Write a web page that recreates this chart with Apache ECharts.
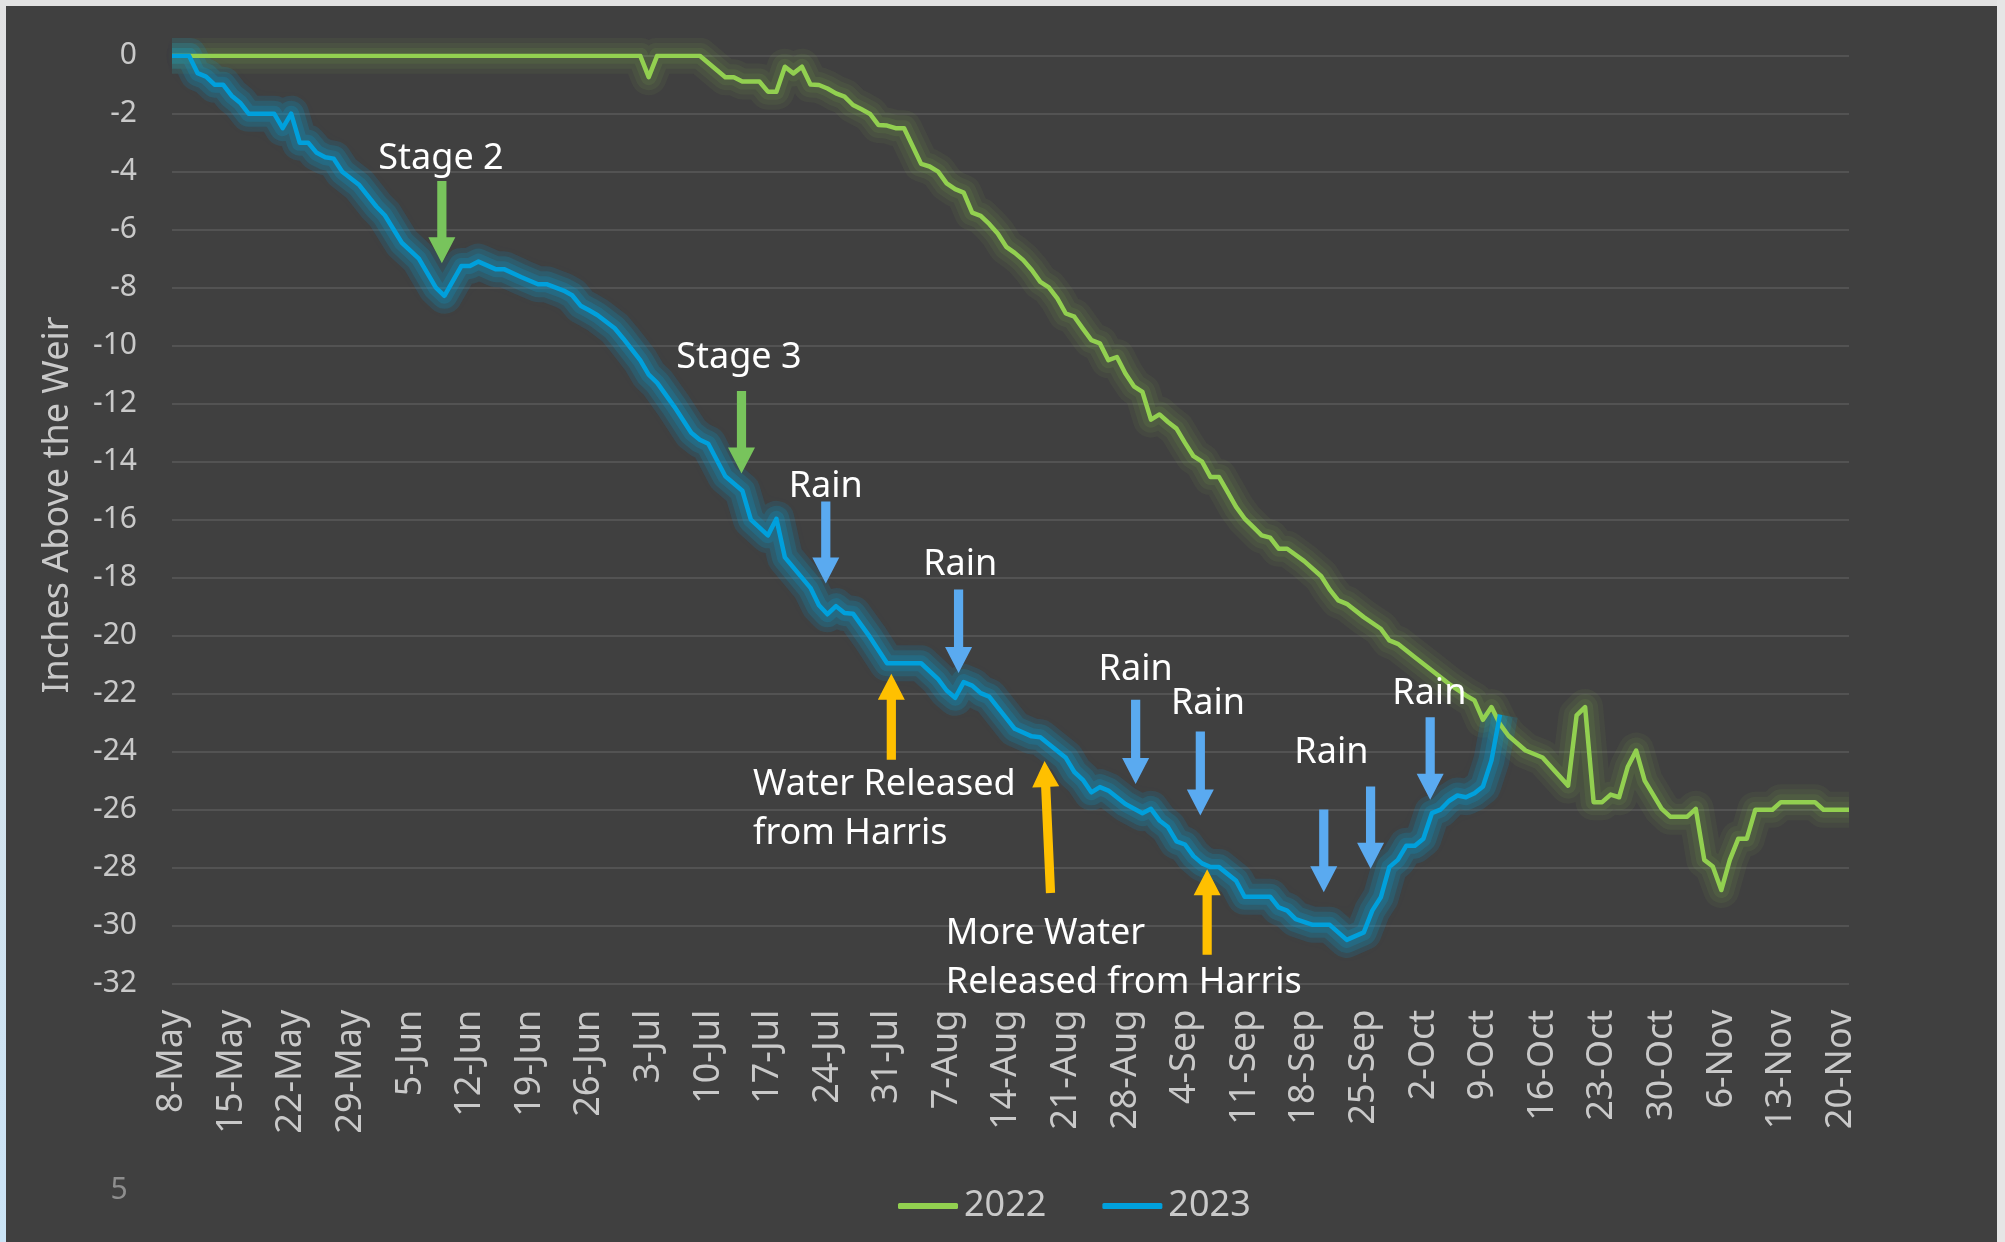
<!DOCTYPE html>
<html>
<head>
<meta charset="utf-8">
<script src="https://cdn.jsdelivr.net/npm/echarts@6/dist/echarts.min.js"></script>
<style>
html,body{margin:0;padding:0;background:#404040;}
#chart{width:2005px;height:1242px;}
</style>
</head>
<body>
<div id="chart"></div>
<script>
// ---- categories: daily dates from 8-May to 21-Nov ----
const monthTable = [['May',31],['Jun',30],['Jul',31],['Aug',31],['Sep',30],['Oct',31],['Nov',30]];
const categories = [];
(function(){
  let m = 0, day = 8;
  for (let i = 0; i < 198; i++) {
    categories.push(day + '-' + monthTable[m][0]);
    day++;
    if (day > monthTable[m][1]) { day = 1; m++; }
  }
})();

const yTicks = { min: -32, max: 0, step: 2 };

// ---- series values: [days since 8-May, inches above the weir] ----
const level2022 = [
  [0,0],[55,0],[56,-0.74],[57,0],[62,0],[65,-0.74],[66,-0.74],[67,-0.89],[69,-0.89],[70,-1.24],
  [71,-1.24],[72,-0.38],[73,-0.61],[74,-0.38],[75,-0.99],[76,-1.01],[77,-1.13],[78,-1.3],[79,-1.41],
  [80,-1.7],[81,-1.85],[82,-2.01],[83,-2.39],[84,-2.41],[85,-2.5],[86,-2.5],[88,-3.73],[89,-3.82],
  [90,-4.0],[91,-4.4],[92,-4.6],[93,-4.72],[94,-5.41],[95,-5.52],[96,-5.8],[97,-6.13],[98,-6.59],
  [99,-6.8],[100,-7.05],[101,-7.39],[102,-7.8],[103,-7.99],[104,-8.37],[105,-8.89],[106,-9.0],
  [107,-9.41],[108,-9.81],[109,-9.92],[110,-10.5],[111,-10.39],[112,-10.96],[113,-11.4],[114,-11.59],
  [115,-12.55],[116,-12.37],[117,-12.63],[118,-12.86],[119,-13.35],[120,-13.81],[121,-14.0],
  [122,-14.53],[123,-14.53],[124,-15.04],[125,-15.56],[126,-15.96],[127,-16.25],[128,-16.54],
  [129,-16.62],[130,-17.0],[131,-17.0],[133,-17.43],[135,-17.95],[136,-18.41],[137,-18.78],
  [138,-18.9],[140,-19.36],[142,-19.76],[143,-20.16],[144,-20.28],[146,-20.74],[148,-21.2],
  [150,-21.66],[152,-22.06],[153,-22.23],[154,-22.9],[155,-22.46],[156,-23.05],[157,-23.45],
  [159,-23.96],[161,-24.2],[164,-25.17],[165,-22.75],[166,-22.46],[167,-25.74],[168,-25.74],
  [169,-25.48],[170,-25.57],[171,-24.53],[172,-23.96],[173,-25.0],[175,-25.97],[176,-26.24],
  [178,-26.24],[179,-25.97],[180,-27.73],[181,-27.96],[182,-28.77],[183,-27.73],[184,-27.0],
  [185,-27.0],[186,-26.0],[188,-26.0],[189,-25.74],[193,-25.74],[194,-26.0],[197,-26.0]
];

const level2023 = [
  [0,0],[2,0],[3,-0.6],[4,-0.72],[5,-1.0],[6,-1.0],[7,-1.38],[8,-1.62],[9,-2.0],[12,-2.0],
  [13,-2.5],[14,-2.0],[15,-3.0],[16,-3.0],[17,-3.35],[18,-3.5],[19,-3.55],[20,-4.0],[22,-4.46],
  [24,-5.2],[25,-5.5],[27,-6.45],[29,-7.0],[31,-8.0],[32,-8.28],[34,-7.25],[35,-7.25],[36,-7.1],
  [38,-7.36],[39,-7.36],[41,-7.63],[43,-7.88],[44,-7.88],[46,-8.1],[47,-8.26],[48,-8.62],
  [49,-8.78],[50,-8.95],[52,-9.4],[53,-9.75],[55,-10.5],[56,-11.0],[57,-11.28],[59,-12.1],
  [61,-13.0],[62,-13.24],[63,-13.38],[65,-14.5],[67,-15.0],[68,-16.0],[70,-16.54],[71,-15.97],
  [72,-17.3],[75,-18.35],[76,-18.95],[77,-19.26],[78,-18.98],[79,-19.22],[80,-19.24],[82,-20.05],
  [84,-20.95],[88,-20.95],[90,-21.5],[91,-21.89],[92,-22.14],[93,-21.6],[94,-21.72],[95,-21.98],
  [96,-22.1],[99,-23.21],[101,-23.47],[102,-23.5],[105,-24.21],[106,-24.7],[107,-24.97],
  [108,-25.4],[109,-25.22],[110,-25.34],[112,-25.8],[114,-26.12],[115,-25.97],[116,-26.37],
  [117,-26.6],[118,-27.09],[119,-27.2],[120,-27.6],[121,-27.85],[122,-27.98],[123,-27.98],
  [125,-28.45],[126,-29.0],[129,-29.0],[130,-29.37],[131,-29.48],[132,-29.77],[134,-29.97],
  [136,-29.97],[138,-30.49],[140,-30.23],[141,-29.48],[142,-29.02],[143,-27.98],[144,-27.73],
  [145,-27.24],[146,-27.24],[147,-27.0],[148,-26.12],[149,-26.0],[150,-25.7],[151,-25.51],
  [152,-25.57],[153,-25.43],[154,-25.2],[155,-24.3],[156,-22.72]
];

// ---- annotations (day position, value) ----
const notes = [
  { text: 'Stage 2', d: 31.6, v: -3.55, align: 'center' },
  { text: 'Stage 3', d: 66.6, v: -10.4, align: 'center' },
  { text: 'Rain', d: 76.8, v: -14.85, align: 'center' },
  { text: 'Rain', d: 92.6, v: -17.57, align: 'center' },
  { text: 'Rain', d: 113.2, v: -21.16, align: 'center' },
  { text: 'Rain', d: 121.7, v: -22.35, align: 'center' },
  { text: 'Rain', d: 136.2, v: -24.04, align: 'center' },
  { text: 'Rain', d: 147.7, v: -22.0, align: 'center' },
  { text: 'Water Released', d: 68.25, v: -25.13, align: 'left' },
  { text: 'from Harris', d: 68.25, v: -26.84, align: 'left' },
  { text: 'More Water', d: 90.9, v: -30.28, align: 'left' },
  { text: 'Released from Harris', d: 90.9, v: -31.95, align: 'left' }
];
// arrows: tail (d0,v0) -> tip (d1,v1)
const arrows = [
  { d0: 31.7, v0: -4.32, d1: 31.7, v1: -7.16, kind: 'stage' },
  { d0: 66.9, v0: -11.56, d1: 66.9, v1: -14.41, kind: 'stage' },
  { d0: 76.8, v0: -15.37, d1: 76.8, v1: -18.2, kind: 'rain' },
  { d0: 92.4, v0: -18.41, d1: 92.4, v1: -21.29, kind: 'rain' },
  { d0: 113.2, v0: -22.21, d1: 113.2, v1: -25.11, kind: 'rain' },
  { d0: 120.8, v0: -23.3, d1: 120.8, v1: -26.2, kind: 'rain' },
  { d0: 135.3, v0: -25.99, d1: 135.3, v1: -28.85, kind: 'rain' },
  { d0: 140.8, v0: -25.2, d1: 140.8, v1: -28.04, kind: 'rain' },
  { d0: 147.8, v0: -22.81, d1: 147.8, v1: -25.66, kind: 'rain' },
  { d0: 84.5, v0: -24.28, d1: 84.5, v1: -21.31, kind: 'release' },
  { d0: 103.2, v0: -28.87, d1: 102.5, v1: -24.32, kind: 'release' },
  { d0: 121.6, v0: -31.0, d1: 121.6, v1: -28.05, kind: 'release' }
];
const arrowColors = { stage: '#78c45c', rain: '#5aaaf0', release: '#ffc000' };

const FONT = '"Noto Sans", "Open Sans", sans-serif';
const LABEL = '#c9c9c9';

const data2022 = level2022.map(p => [categories[p[0]], p[1]]);
const data2023 = level2023.map(p => [categories[p[0]], p[1]]);

// soft halo drawn as stacked translucent strokes of the same line
function glowLayers(name, data, rgb, alphas) {
  const widths = [36, 26, 16];
  return widths.map((w, i) => ({
    name: name + ' glow ' + i, type: 'line', symbol: 'none', showSymbol: false, silent: true,
    data: data, z: 1,
    lineStyle: { color: 'rgba(' + rgb + ',' + alphas[i] + ')', width: w, join: 'round', cap: 'butt',
                 shadowBlur: 14, shadowColor: 'rgba(' + rgb + ',' + alphas[i] + ')' }
  }));
}

const chart = echarts.init(document.getElementById('chart'), null, { renderer: 'canvas' });

chart.setOption({
  animation: false,
  backgroundColor: '#404040',
  textStyle: { fontFamily: FONT },
  grid: { left: 172, right: 156, top: 55.7, bottom: 258.3, containLabel: false },
  legend: {
    data: ['2022', '2023'],
    left: 893, top: 1183,
    icon: 'roundRect',
    itemWidth: 60, itemHeight: 6, itemGap: 56,
    textStyle: { color: LABEL, fontSize: 36, fontFamily: FONT, padding: [0, 0, 0, 1] }
  },
  xAxis: {
    type: 'category',
    data: categories,
    boundaryGap: false,
    axisLine: { show: false },
    axisTick: { show: false },
    splitLine: { show: false },
    axisLabel: { interval: 6, rotate: 90, color: LABEL, fontSize: 36, margin: 26, fontFamily: FONT }
  },
  yAxis: {
    type: 'value',
    min: yTicks.min, max: yTicks.max, interval: yTicks.step,
    axisLine: { show: false },
    axisTick: { show: false },
    axisLabel: { color: LABEL, fontSize: 30, margin: 35, fontFamily: FONT },
    splitLine: { show: true, lineStyle: { color: '#5a5a5a', width: 1.5 } }
  },
  series: [].concat(
    glowLayers('2022', data2022, '146,208,80', [0.06, 0.07, 0.09]),
    glowLayers('2023', data2023, '0,175,235', [0.12, 0.14, 0.16]),
    [
      {
        name: '2022', type: 'line', symbol: 'none', showSymbol: false,
        data: data2022,
        itemStyle: { color: '#92d050' },
        lineStyle: { color: '#92d050', width: 4.5, join: 'round' },
        z: 2
      },
      {
        name: '2023', type: 'line', symbol: 'none', showSymbol: false,
        data: data2023,
        itemStyle: { color: '#00a0dc' },
        lineStyle: { color: '#00a0dc', width: 4.5, join: 'round' },
        z: 3
      }
    ]
  )
});

// ---- overlay graphics positioned from the axes ----
const xa = chart.convertToPixel({ xAxisIndex: 0 }, categories[0]);
const xb = chart.convertToPixel({ xAxisIndex: 0 }, categories[categories.length - 1]);
const px = d => xa + (xb - xa) * d / (categories.length - 1);
const py = v => chart.convertToPixel({ yAxisIndex: 0 }, v);

function arrowPoints(x0, y0, x1, y1) {
  const dx = x1 - x0, dy = y1 - y0, L = Math.hypot(dx, dy);
  const ux = dx / L, uy = dy / L, nx = -uy, ny = ux;
  const sw = 4.6, hw = 13.5, hl = 26;
  const bx = x1 - ux * hl, by = y1 - uy * hl;
  return [
    [x0 + nx * sw, y0 + ny * sw], [bx + nx * sw, by + ny * sw], [bx + nx * hw, by + ny * hw],
    [x1, y1],
    [bx - nx * hw, by - ny * hw], [bx - nx * sw, by - ny * sw], [x0 - nx * sw, y0 - ny * sw]
  ];
}

const graphics = [];
// frame edges
graphics.push({ type: 'rect', shape: { x: 0, y: 0, width: 2005, height: 6 }, style: { fill: '#e2e2e2' }, z: 100 });
graphics.push({ type: 'rect', shape: { x: 0, y: 0, width: 6, height: 1242 },
  style: { fill: new echarts.graphic.LinearGradient(0, 0, 0, 1, [
    { offset: 0, color: '#e2e2e2' }, { offset: 1, color: '#cbe4f6' }]) }, z: 100 });
graphics.push({ type: 'rect', shape: { x: 1997, y: 0, width: 8, height: 1242 }, style: { fill: '#e6e6e6' }, z: 100 });

// y axis title
graphics.push({
  type: 'text', x: 57.5, y: 505, rotation: Math.PI / 2, z: 50,
  style: { text: 'Inches Above the Weir', fill: LABEL, font: '36px ' + FONT,
           align: 'center', verticalAlign: 'middle', textAlign: 'center', textVerticalAlign: 'middle' }
});
// page number
graphics.push({
  type: 'text', x: 119, y: 1190, z: 50,
  style: { text: '5', fill: '#8e8e8e', font: '30px ' + FONT,
           align: 'center', verticalAlign: 'middle', textAlign: 'center', textVerticalAlign: 'middle' }
});

arrows.forEach(a => {
  graphics.push({
    type: 'polygon', z: 60,
    shape: { points: arrowPoints(px(a.d0), py(a.v0), px(a.d1), py(a.v1)) },
    style: { fill: arrowColors[a.kind] }
  });
});
notes.forEach(n => {
  graphics.push({
    type: 'text', x: px(n.d), y: py(n.v), z: 61,
    style: { text: n.text, fill: '#ffffff', font: '36px ' + FONT,
             align: n.align, verticalAlign: 'middle', textAlign: n.align, textVerticalAlign: 'middle' }
  });
});

chart.setOption({ graphic: graphics });
</script>
</body>
</html>
